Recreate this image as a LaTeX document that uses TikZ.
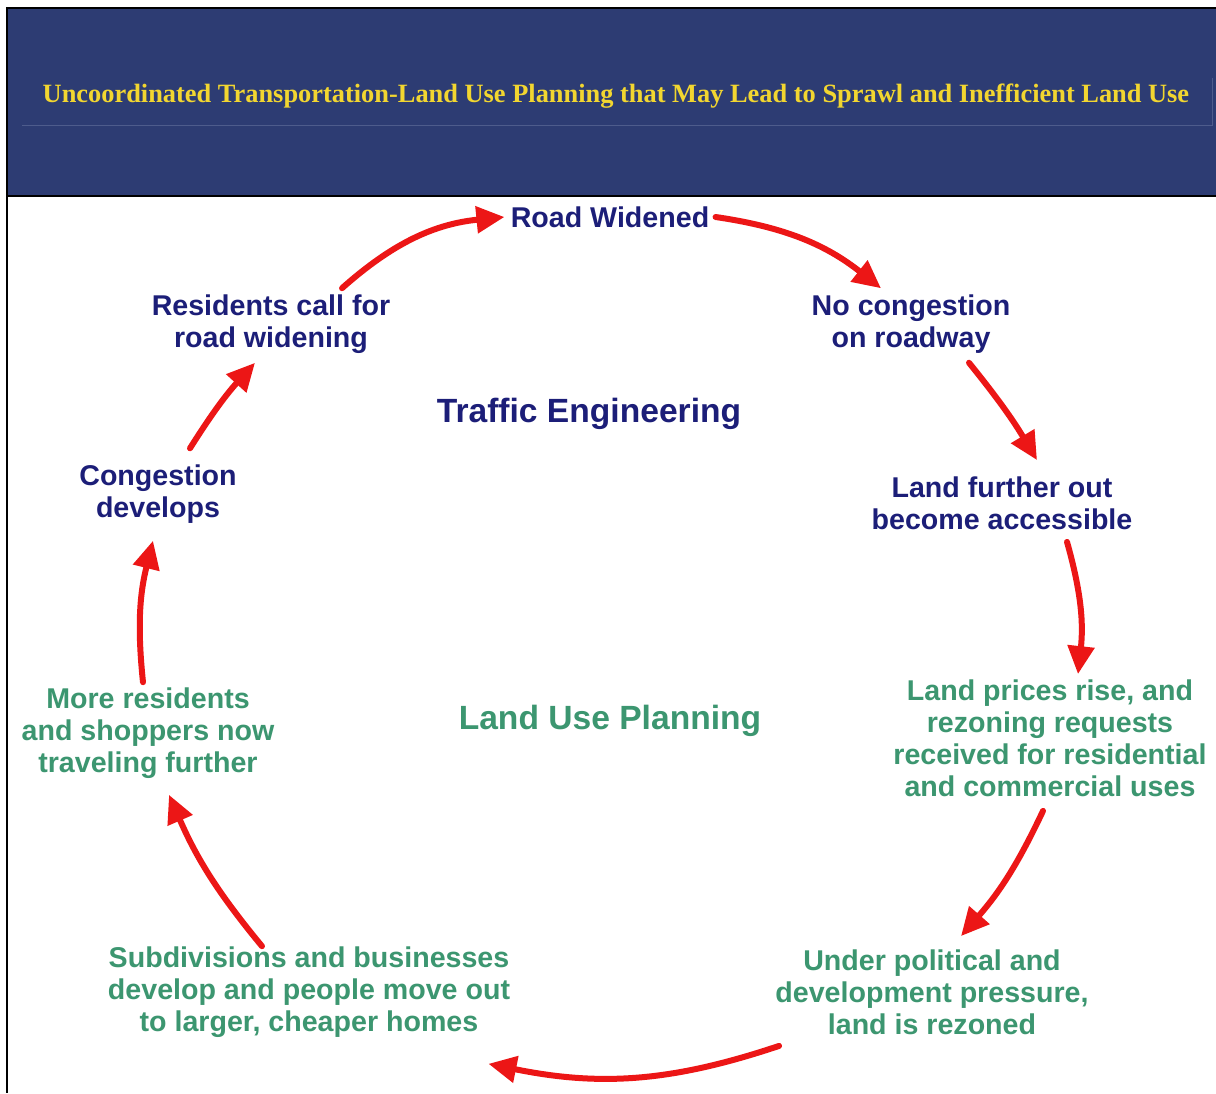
\documentclass[tikz,border=0pt]{standalone}
\usepackage{fontspec}
\setmainfont{Liberation Serif}
\newfontfamily\labelfont{Liberation Sans}
\usetikzlibrary{arrows.meta}

\definecolor{headblue}{RGB}{45,60,115}
\definecolor{headline}{RGB}{78,92,140}
\definecolor{titleyellow}{RGB}{242,214,48}
\definecolor{navytext}{RGB}{28,30,120}
\definecolor{greentext}{RGB}{60,150,112}
\definecolor{arrowred}{RGB}{236,22,22}

\tikzset{
  navylabel/.style={text=navytext, align=center, inner sep=3pt,
    font=\labelfont\bfseries\fontsize{14.3}{16}\selectfont},
  greenlabel/.style={text=greentext, align=center, inner sep=3pt,
    font=\labelfont\bfseries\fontsize{14.3}{16}\selectfont},
  arealabel/.style={align=center, inner sep=3pt,
    font=\labelfont\bfseries\fontsize{16.8}{19}\selectfont},
  cyc/.style={draw=arrowred, line width=3pt, line cap=round,
    -{Triangle[length=14pt,width=13pt]}}
}

\begin{document}
\begin{tikzpicture}[x=0.5pt,y=0.5pt]

\fill[white] (0,0) rectangle (1216,-1093);
\useasboundingbox (0,0) rectangle (1216,-1093);

% header band
\fill[headblue] (7,-8) rectangle (1216,-196);
\draw[headline, line width=0.5pt] (22,-125) -- (1212,-125) -- (1212,-78);
\node[anchor=base, text=titleyellow, inner sep=0pt,
      font=\bfseries\fontsize{13.2}{15}\selectfont] (title) at (616,-102)
  {Uncoordinated Transportation-Land Use Planning that May Lead to Sprawl and Inefficient Land Use};
\draw[black, line width=1.3pt] (1216,-8) -- (7,-8) -- (7,-1093);
\draw[black, line width=1.3pt] (7,-196) -- (1216,-196);

% the two areas
\node[arealabel, text=navytext] (traffic) at (589,-414) {Traffic Engineering};
\node[arealabel, text=greentext] (landuse) at (610,-721) {Land Use Planning};

% steps of the cycle
\node[navylabel] (road) at (610,-217) {Road Widened};
\node[navylabel] (nocong) at (911,-324) {No congestion\\on roadway};
\node[navylabel] (access) at (1002,-503) {Land further out\\become accessible};
\node[greenlabel] (prices) at (1050,-738)
  {Land prices rise, and\\rezoning requests\\received for residential\\and commercial uses};
\node[greenlabel] (rezoned) at (932,-992)
  {Under political and\\development pressure,\\land is rezoned};
\node[greenlabel] (subdiv) at (309,-992)
  {Subdivisions and businesses\\develop and people move out\\to larger, cheaper homes};
\node[greenlabel] (travel) at (148,-733)
  {More residents\\and shoppers now\\traveling further};
\node[navylabel] (congest) at (158,-494) {Congestion\\develops};
\node[navylabel] (callfor) at (271,-324) {Residents call for\\road widening};

% arrows round the cycle
\draw[cyc] ([shift={(71,0)}]callfor.north) to[bend left=18] (road.west);
\draw[cyc] (road.east) to[bend left=15] ([shift={(-30,0)}]nocong.north);
\draw[cyc] ([shift={(58,-3)}]nocong.south) to[bend left=4] ([shift={(35,10)}]access.north);
\draw[cyc] ([shift={(65,-6)}]access.south) to[bend left=11] ([shift={(28,-1)}]prices.north);
\draw[cyc] ([shift={(-7,-8)}]prices.south) to[bend left=8] ([shift={(29,7)}]rezoned.north);
\draw[cyc] ([shift={(10,-5)}]rezoned.south west) to[bend left=15] ([shift={(-28,-20)}]subdiv.south east);
\draw[cyc] ([shift={(-47,-6)}]subdiv.north) to[bend left=8] ([shift={(21,-10)}]travel.south);
\draw[cyc] ([shift={(-5,-1)}]travel.north) to[bend left=10] ([shift={(-5,-11)}]congest.south);
\draw[cyc] ([shift={(32,10)}]congest.north) to[bend left=5] ([shift={(-16,-3)}]callfor.south);

\end{tikzpicture}
\end{document}
